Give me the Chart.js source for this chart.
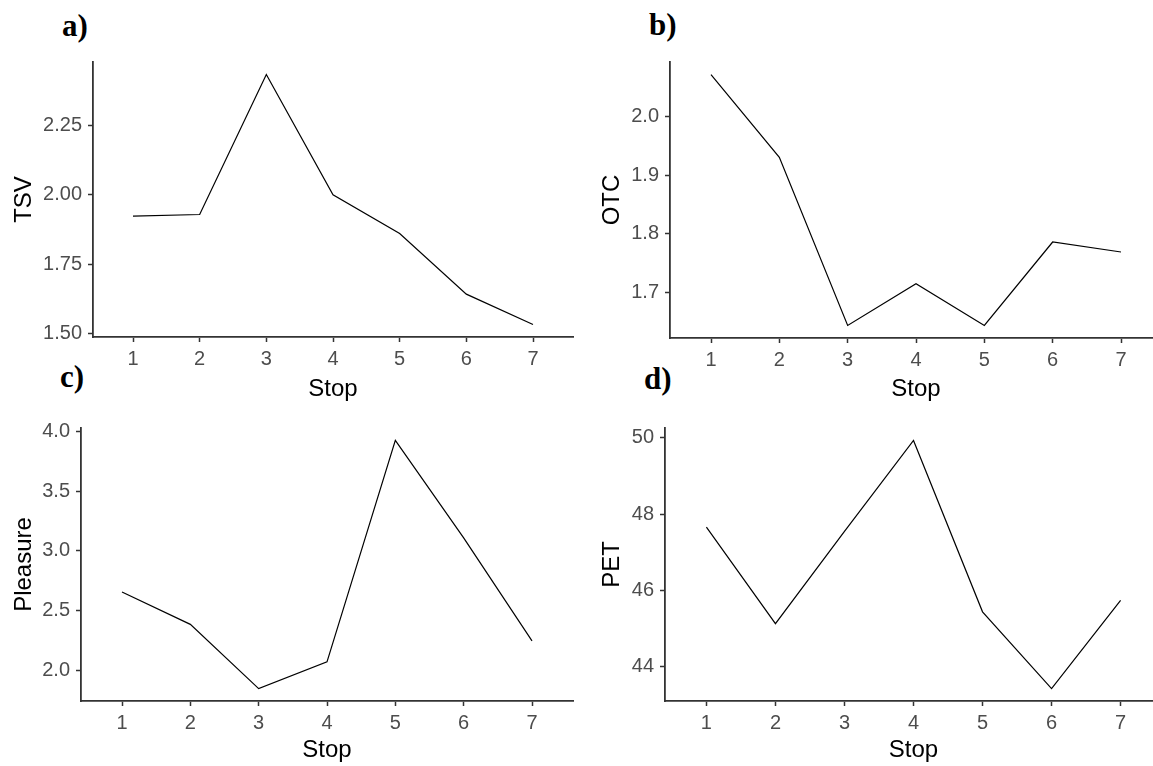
<!DOCTYPE html>
<html>
<head>
<meta charset="utf-8">
<script src="https://cdn.jsdelivr.net/npm/chart.js@4.4.1/dist/chart.umd.min.js"></script>
<style>
  html, body { margin: 0; padding: 0; background: #fff; }
  body { width: 1153px; height: 766px; position: relative; overflow: hidden; }
  canvas { position: absolute; }
  .tag { position: absolute; font: bold 31px 'Liberation Serif', 'Times New Roman', serif; line-height: 1; color: #000; }
</style>
</head>
<body>
<div class="tag" style="left:62px;top:10px">a)</div>
<div class="tag" style="left:649px;top:9px">b)</div>
<div class="tag" style="left:60px;top:361px">c)</div>
<div class="tag" style="left:644px;top:363px">d)</div>
<canvas id="chartTSV"></canvas>
<canvas id="chartOTC"></canvas>
<canvas id="chartPleasure"></canvas>
<canvas id="chartPET"></canvas>
<script>
// Mean response per stop
const stops = [1, 2, 3, 4, 5, 6, 7];
const tsv = [1.923, 1.929, 2.432, 2.000, 1.861, 1.643, 1.534];
const otc = [2.071, 1.930, 1.644, 1.715, 1.644, 1.786, 1.769];
const pleasure = [2.655, 2.384, 1.845, 2.069, 3.928, 3.110, 2.246];
const pet = [47.66, 45.13, 47.55, 49.93, 45.44, 43.43, 45.74];

// y tick labels
const tsvTicks = ['1.50', '1.75', '2.00', '2.25'];
const otcTicks = ['1.7', '1.8', '1.9', '2.0'];
const pleasureTicks = ['2.0', '2.5', '3.0', '3.5', '4.0'];
const petTicks = ['44', '46', '48', '50'];

const SANS = "'Liberation Sans', Arial, sans-serif";
const AXIS = '#333333';

function drawPanel(id, box, plot, yTitle, values, tickLabels, yTitlePad, xTitlePad) {
    const canvas = document.getElementById(id);
    canvas.width = box.w;
    canvas.height = box.h;
    canvas.style.left = box.x + 'px';
    canvas.style.top = box.y + 'px';

    // ggplot-style 5% expansion around the data
    const lo = Math.min(...values), hi = Math.max(...values);
    const pad = (hi - lo) * 0.05;

    const tickFont = { family: SANS, size: 20 };
    const titleFont = { family: SANS, size: 24 };
    const grid = { display: true, drawOnChartArea: false, drawTicks: true, tickLength: 5, tickColor: AXIS, tickWidth: 1.5 };
    const border = { display: true, color: AXIS, width: 1.8 };

    new Chart(canvas, {
        type: 'line',
        data: {
            datasets: [{
                data: stops.map((s, i) => ({ x: s, y: values[i] })),
                borderColor: '#000',
                borderWidth: 1.2,
                pointRadius: 0,
                tension: 0,
                fill: false
            }]
        },
        options: {
            responsive: false,
            animation: false,
            layout: { padding: { top: plot.top - box.y, right: box.x + box.w - plot.right, left: 0, bottom: 0 } },
            plugins: { legend: { display: false }, tooltip: { enabled: false } },
            scales: {
                x: {
                    type: 'linear',
                    min: 0.4,
                    max: 7.6,
                    afterBuildTicks: s => { s.ticks = stops.map(v => ({ value: v })); },
                    afterFit: s => { s.height = box.y + box.h - plot.bottom; },
                    ticks: { autoSkip: false, maxRotation: 0, color: '#4D4D4D', font: tickFont, padding: 5, callback: v => String(v) },
                    grid: grid,
                    border: border,
                    title: { display: true, text: 'Stop', color: '#000', font: titleFont, padding: { top: 0, bottom: xTitlePad } }
                },
                y: {
                    type: 'linear',
                    min: lo - pad,
                    max: hi + pad,
                    afterBuildTicks: s => { s.ticks = tickLabels.map(t => ({ value: Number(t) })); },
                    afterFit: s => { s.width = plot.left - box.x; },
                    ticks: {
                        autoSkip: false, color: '#4D4D4D', font: tickFont, padding: 6,
                        callback: v => tickLabels.find(t => Number(t) === v)
                    },
                    grid: grid,
                    border: border,
                    title: { display: true, text: yTitle, color: '#000', font: titleFont, padding: { top: yTitlePad, bottom: 0 } }
                }
            }
        }
    });
}

drawPanel('chartTSV',
    { x: 0, y: 40, w: 580, h: 370 },
    { left: 93, top: 62, right: 573, bottom: 337 },
    'TSV', tsv, tsvTicks, 10, 6);

drawPanel('chartOTC',
    { x: 585, y: 40, w: 590, h: 370 },
    { left: 670, top: 62, right: 1162, bottom: 338 },
    'OTC', otc, otcTicks, 13, 6);

drawPanel('chartPleasure',
    { x: 0, y: 410, w: 580, h: 356 },
    { left: 81, top: 428, right: 573, bottom: 701 },
    'Pleasure', pleasure, pleasureTicks, 10, 1);

drawPanel('chartPET',
    { x: 585, y: 410, w: 590, h: 356 },
    { left: 665, top: 427, right: 1162, bottom: 701 },
    'PET', pet, petTicks, 13, 1);
</script>
</body>
</html>
